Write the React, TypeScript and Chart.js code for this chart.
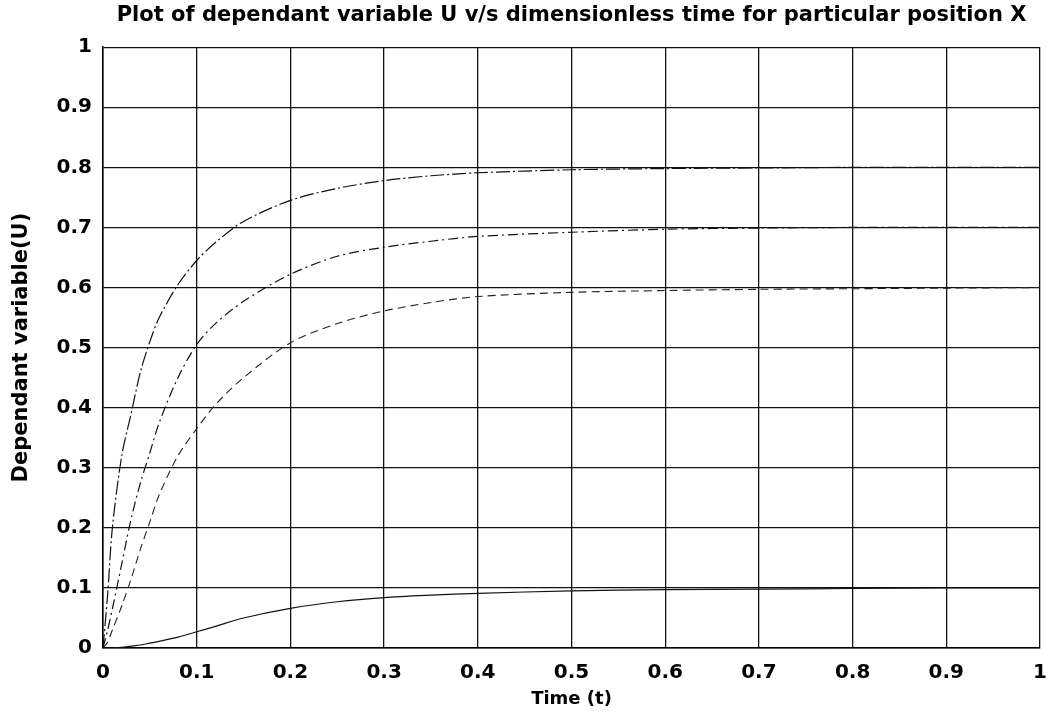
import React, { useEffect, useRef } from "react";
import { Chart, registerables } from "chart.js";

Chart.register(...registerables);

const titleText = "Plot of dependant variable U v/s dimensionless time for particular position X";
const xAxisLabel = "Time (t)";
const yAxisLabel = "Dependant variable(U)";

const timeValues = [0, 0.005, 0.01, 0.02, 0.03, 0.04, 0.05, 0.06, 0.08, 0.1, 0.12, 0.15, 0.2, 0.25, 0.3, 0.35, 0.4, 0.5, 0.6, 0.7, 0.8, 0.9, 1.0];

const curveTo08 = [0, 0.09, 0.2, 0.32, 0.39, 0.46, 0.51, 0.55, 0.605, 0.645, 0.675, 0.71, 0.745, 0.765, 0.778, 0.786, 0.791, 0.796, 0.798, 0.799, 0.8, 0.8, 0.8];
const curveTo07 = [0, 0.03, 0.065, 0.14, 0.215, 0.275, 0.325, 0.375, 0.45, 0.505, 0.54, 0.577, 0.622, 0.652, 0.667, 0.677, 0.685, 0.692, 0.697, 0.699, 0.7, 0.7, 0.7];
const curveTo06 = [0, 0.01, 0.03, 0.07, 0.115, 0.165, 0.21, 0.255, 0.32, 0.365, 0.405, 0.45, 0.508, 0.54, 0.561, 0.575, 0.585, 0.592, 0.595, 0.597, 0.598, 0.599, 0.6];
const curveTo01 = [0, 0, 0, 0.001, 0.003, 0.005, 0.008, 0.011, 0.018, 0.027, 0.036, 0.05, 0.066, 0.077, 0.084, 0.088, 0.091, 0.095, 0.097, 0.098, 0.099, 0.1, 0.1];

const xTicks = [0, 0.1, 0.2, 0.3, 0.4, 0.5, 0.6, 0.7, 0.8, 0.9, 1];
const yTicks = [0, 0.1, 0.2, 0.3, 0.4, 0.5, 0.6, 0.7, 0.8, 0.9, 1];

const toPoints = (vals: number[]) => timeValues.map((t, i) => ({ x: t, y: vals[i] }));

export default function App() {
  const ref = useRef<HTMLCanvasElement | null>(null);

  useEffect(() => {
    if (!ref.current) return;
    const fontFamily = "'DejaVu Sans', sans-serif";
    const chart = new Chart(ref.current, {
      type: "line",
      data: {
        datasets: [
          { label: "U1", data: toPoints(curveTo08), borderColor: "#111", borderWidth: 1.2, borderDash: [14, 3, 2, 3], pointRadius: 0, tension: 0.3, fill: false },
          { label: "U2", data: toPoints(curveTo07), borderColor: "#111", borderWidth: 1.2, borderDash: [10, 4, 2, 4], pointRadius: 0, tension: 0.3, fill: false },
          { label: "U3", data: toPoints(curveTo06), borderColor: "#222", borderWidth: 1.1, borderDash: [8, 5], pointRadius: 0, tension: 0.3, fill: false },
          { label: "U4", data: toPoints(curveTo01), borderColor: "#111", borderWidth: 1.2, pointRadius: 0, tension: 0.3, fill: false },
        ],
      },
      options: {
        animation: false,
        responsive: true,
        maintainAspectRatio: false,
        layout: { padding: { left: 0, right: 0, top: 0, bottom: 0 } },
        plugins: {
          legend: { display: false },
          tooltip: { enabled: false },
          title: {
            display: true,
            text: titleText,
            color: "#000",
            font: { family: fontFamily, size: 21, weight: "bold" },
            padding: { top: 3, bottom: 19 },
            fullSize: false,
          },
        },
        scales: {
          x: {
            type: "linear",
            min: 0,
            max: 1,
            afterBuildTicks: (s: any) => { s.ticks = xTicks.map((v) => ({ value: v })); },
            afterFit: (s: any) => { s.height = 73; s.paddingRight = 8; s.paddingLeft = 0; },
            grid: { color: "#111", lineWidth: 1.3, drawTicks: false },
            border: { color: "#000", width: 1.5 },
            ticks: {
              color: "#000",
              padding: 13,
              maxRotation: 0,
              font: { family: fontFamily, size: 20, weight: "bold" },
              callback: (v: any) => String(Math.round(Number(v) * 10) / 10),
            },
            title: {
              display: true,
              text: xAxisLabel,
              color: "#000",
              font: { family: fontFamily, size: 18, weight: "bold" },
              padding: { top: 0, bottom: 11 },
            },
          },
          y: {
            type: "linear",
            min: 0,
            max: 1,
            afterBuildTicks: (s: any) => { s.ticks = yTicks.map((v) => ({ value: v })); },
            afterFit: (s: any) => { s.width = 103; },
            grid: { color: "#111", lineWidth: 1.3, drawTicks: false },
            border: { color: "#000", width: 1.5 },
            ticks: {
              color: "#000",
              padding: 11,
              font: { family: fontFamily, size: 20, weight: "bold" },
              callback: (v: any) => String(Math.round(Number(v) * 10) / 10),
            },
            title: {
              display: true,
              text: yAxisLabel,
              color: "#000",
              font: { family: fontFamily, size: 21, weight: "bold" },
              padding: { top: 9, bottom: 0 },
            },
          },
        },
      },
    });
    return () => chart.destroy();
  }, []);

  return (
    <div style={{ position: "fixed", left: 0, top: 0, width: 1048, height: 721, background: "#fff" }}>
      <canvas ref={ref} />
    </div>
  );
}
